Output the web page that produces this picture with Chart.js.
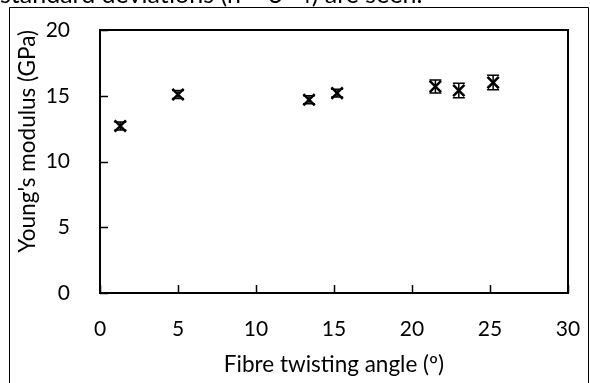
<!DOCTYPE html>
<html>
<head>
<meta charset="utf-8">
<script src="https://cdn.jsdelivr.net/npm/chart.js@4/dist/chart.umd.min.js"></script>
<style>
  html, body { margin: 0; padding: 0; background: #fff; }
  #wrap { width: 590px; height: 383px; }
</style>
</head>
<body>
<div id="wrap"><canvas id="chart" width="590" height="383"></canvas></div>
<script>
// twisting angle (deg), modulus (GPa), standard deviation (GPa)
var angles = [1.3, 5.0, 13.4, 15.2, 21.5, 23.0, 25.2];
var modulus = [12.7, 15.1, 14.7, 15.2, 15.7, 15.4, 16.0];
var stdDev = [0.3, 0.3, 0.3, 0.3, 0.5, 0.55, 0.55];
var xTicks = [0, 5, 10, 15, 20, 25, 30];
var yTicks = [0, 5, 10, 15, 20];

var fontFamily = "Lato, 'Open Sans', sans-serif";

// frame round the figure and the cut-off caption line above it
var framePlugin = {
    id: 'frame',
    beforeDraw: function (chart) {
        var ctx = chart.ctx;
        ctx.save();
        ctx.fillStyle = '#fff';
        ctx.fillRect(0, 0, chart.width, chart.height);
        ctx.fillStyle = '#000';
        ctx.font = "25px " + fontFamily;
        ctx.textBaseline = 'alphabetic';
        ctx.fillText('standard deviations (n = 3\u20134) are seen.', 0, 3);
        ctx.strokeStyle = '#000';
        ctx.lineWidth = 1;
        ctx.beginPath();
        ctx.moveTo(9.5, chart.height);
        ctx.lineTo(9.5, 7.5);
        ctx.lineTo(588.5, 7.5);
        ctx.lineTo(588.5, chart.height);
        ctx.stroke();
        ctx.restore();
    }
};

// plot border, inward ticks and error bars
var errorBarPlugin = {
    id: 'errorBars',
    afterDatasetsDraw: function (chart) {
        var ctx = chart.ctx;
        var xs = chart.scales.x, ys = chart.scales.y;
        var area = chart.chartArea;
        ctx.save();
        ctx.strokeStyle = '#000';

        ctx.lineWidth = 1.5;
        for (var i = 0; i < angles.length; i++) {
            var px = xs.getPixelForValue(angles[i]);
            var top = ys.getPixelForValue(modulus[i] + stdDev[i]);
            var bot = ys.getPixelForValue(modulus[i] - stdDev[i]);
            ctx.beginPath();
            ctx.moveTo(px, top); ctx.lineTo(px, bot);
            ctx.moveTo(px - 6, top); ctx.lineTo(px + 6, top);
            ctx.moveTo(px - 6, bot); ctx.lineTo(px + 6, bot);
            ctx.stroke();
        }

        ctx.lineWidth = 1.5;
        ctx.beginPath();
        xTicks.forEach(function (v) {
            var p = Math.round(xs.getPixelForValue(v)) + 0.5;
            ctx.moveTo(p, area.bottom); ctx.lineTo(p, area.bottom - 8);
        });
        yTicks.forEach(function (v) {
            var p = Math.round(ys.getPixelForValue(v)) + 0.5;
            ctx.moveTo(area.left, p); ctx.lineTo(area.left + 8, p);
        });
        ctx.stroke();

        ctx.lineWidth = 2;
        ctx.strokeRect(area.left, area.top, area.right - area.left, area.bottom - area.top);
        ctx.restore();
    }
};

new Chart(document.getElementById('chart'), {
    type: 'scatter',
    data: {
        datasets: [
            {
                data: angles.map(function (a, i) { return {x: a, y: modulus[i]}; }),
                pointStyle: 'crossRot',
                pointRadius: 8,
                pointBorderWidth: 2.5,
                borderColor: '#000',
                backgroundColor: '#000'
            }
        ]
    },
    options: {
        responsive: false,
        animation: false,
        layout: {
            padding: {left: 0, right: 22, top: 30, bottom: 0}
        },
        plugins: {
            legend: {
                display: false
            },
            tooltip: {
                enabled: false
            }
        },
        scales: {
            x: {
                type: 'linear',
                min: 0,
                max: 30,
                afterFit: function (scale) { scale.height = 90; },
                afterBuildTicks: function (scale) {
                    scale.ticks = xTicks.map(function (v) { return {value: v}; });
                },
                // tick marks are drawn by the plugin; tickLength only spaces the labels
                grid: {display: false, drawTicks: true, tickLength: 24},
                border: {display: false},
                ticks: {
                    color: '#000',
                    padding: 0,
                    maxRotation: 0,
                    font: {family: fontFamily, size: 21}
                },
                title: {
                    display: true,
                    text: 'Fibre twisting angle (\u00ba)',
                    color: '#000',
                    padding: {top: 0, bottom: 5},
                    font: {family: fontFamily, size: 22.5}
                }
            },
            y: {
                type: 'linear',
                min: 0,
                max: 20,
                afterFit: function (scale) { scale.width = 100; },
                afterBuildTicks: function (scale) {
                    scale.ticks = yTicks.map(function (v) { return {value: v}; });
                },
                grid: {display: false, drawTicks: true, tickLength: 30},
                border: {display: false},
                ticks: {
                    color: '#000',
                    padding: 0,
                    font: {family: fontFamily, size: 21}
                },
                title: {
                    display: true,
                    text: "Young's modulus (GPa)",
                    align: 'end',
                    color: '#000',
                    padding: {top: 14, bottom: 0},
                    font: {family: fontFamily, size: 22.5}
                }
            }
        }
    },
    plugins: [framePlugin, errorBarPlugin]
});
</script>
</body>
</html>
